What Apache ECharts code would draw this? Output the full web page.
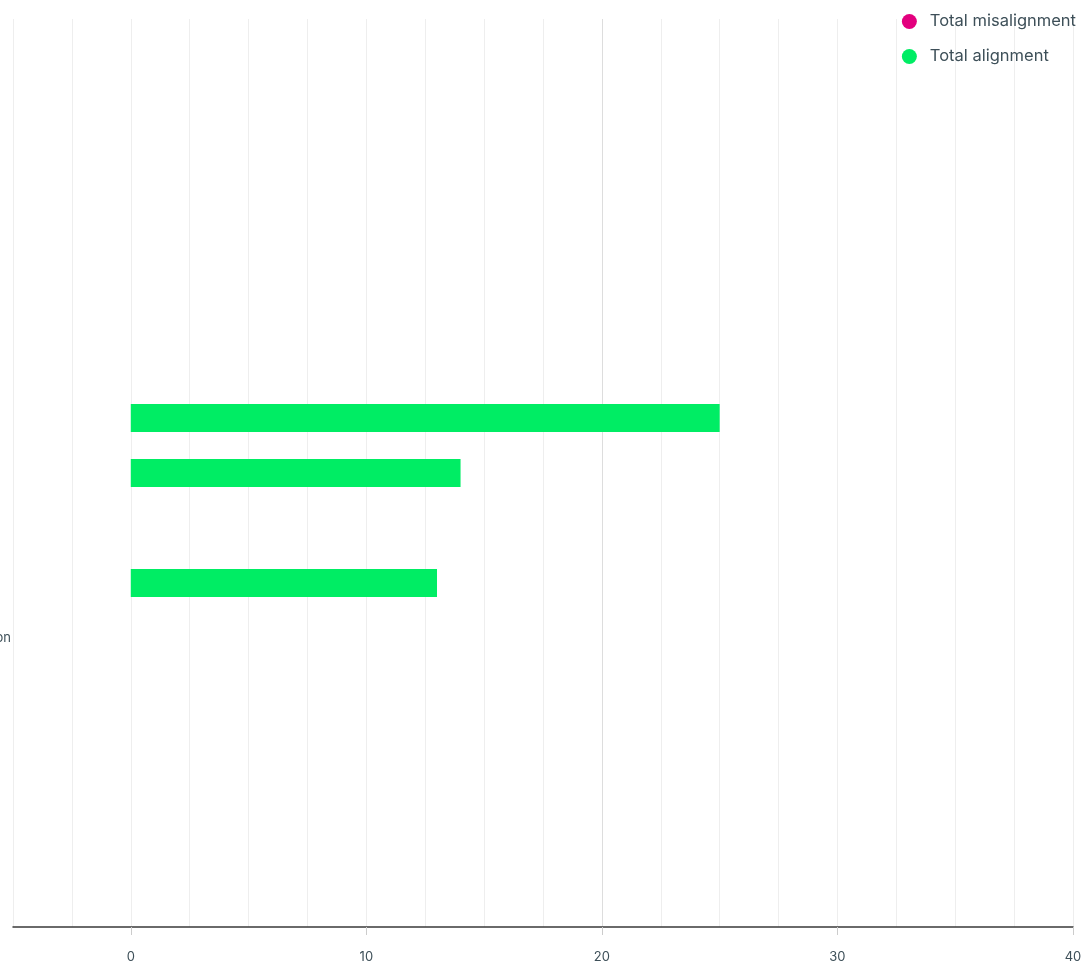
<!DOCTYPE html>
<html>
<head>
<meta charset="utf-8">
<script src="https://cdn.jsdelivr.net/npm/echarts@6/dist/echarts.min.js"></script>
<style>
  html, body { margin: 0; padding: 0; background: #fff; }
  #chart { width: 1081px; height: 962px; }
</style>
</head>
<body>
<div id="chart"></div>
<script>
// categories top to bottom, only one label is readable in the picture
const categories = ['', '', '', '', '', '', '', '', '', '', '', 'Communication', '', '', '', '', ''];
const misalignment = [0, 0, 0, 0, 0, 0, 0, 0, 0, 0, 0, 0, 0, 0, 0, 0, 0];
const alignment = [0, 0, 0, 0, 0, 0, 0, 25, 14, 0, 13, 0, 0, 0, 0, 0, 0];
const tickValues = [0, 10, 20, 30, 40];

const chart = echarts.init(document.getElementById('chart'));
const fontFamily = 'Inter, "Noto Sans", sans-serif';

chart.setOption({
  animation: false,
  textStyle: { fontFamily: fontFamily },
  legend: {
    orient: 'vertical',
    right: 0,
    top: 8,
    icon: 'circle',
    itemWidth: 31,
    itemHeight: 15,
    itemGap: 18,
    textStyle: { fontSize: 16.5, lineHeight: 15, color: '#3d4f58', fontFamily: fontFamily },
    data: ['Total misalignment', 'Total alignment']
  },
  grid: [
    // grid with the value axis and grid lines
    { left: 13, right: 8, top: 19, bottom: 35, outerBoundsMode: 'none', containLabel: false },
    // grid holding the bars
    { left: 13, right: 8, top: 5.5, bottom: 21.5, outerBoundsMode: 'none', containLabel: false }
  ],
  xAxis: [
    {
      // light grid lines every 2.5
      gridIndex: 0,
      type: 'value',
      position: 'top',
      min: -5,
      max: 40,
      interval: 2.5,
      axisLine: { show: false },
      axisTick: { show: false },
      axisLabel: { show: false },
      splitLine: { show: true, lineStyle: { color: '#eeeeee', width: 1 } }
    },
    {
      gridIndex: 0,
      type: 'value',
      position: 'bottom',
      min: -5,
      max: 40,
      interval: 2.5,
      axisLine: { show: true, lineStyle: { color: '#3a3a3a', width: 1.5 } },
      axisTick: { show: true, length: 8, customValues: tickValues, lineStyle: { color: '#cccccc' } },
      axisLabel: {
        customValues: tickValues,
        margin: 24,
        fontSize: 13,
        color: '#3d4f58'
      },
      splitLine: {
        show: true,
        lineStyle: { color: ['rgba(0,0,0,0)', 'rgba(0,0,0,0)', '#dddddd', 'rgba(0,0,0,0)'], width: 1 }
      }
    },
    {
      gridIndex: 1,
      type: 'value',
      min: -5,
      max: 40,
      show: false
    }
  ],
  yAxis: [
    { gridIndex: 0, type: 'value', show: false },
    {
      gridIndex: 1,
      type: 'category',
      inverse: true,
      data: categories,
      axisLine: { show: false },
      axisTick: { show: false },
      splitLine: { show: false },
      axisLabel: { margin: 2, fontSize: 13, color: '#3d4f58' }
    }
  ],
  series: [
    {
      name: 'Total misalignment',
      type: 'bar',
      xAxisIndex: 2,
      yAxisIndex: 1,
      stack: 'total',
      barWidth: 28,
      itemStyle: { color: '#e3007e' },
      data: misalignment
    },
    {
      name: 'Total alignment',
      type: 'bar',
      xAxisIndex: 2,
      yAxisIndex: 1,
      stack: 'total',
      barWidth: 28,
      itemStyle: { color: '#00ed64' },
      data: alignment
    }
  ]
});
</script>
</body>
</html>
